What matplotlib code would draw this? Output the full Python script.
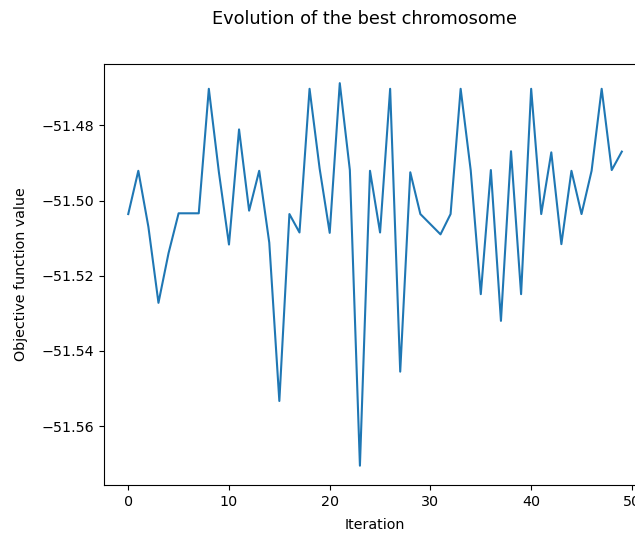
import numpy as np
import matplotlib
matplotlib.use('Agg')
import matplotlib.pyplot as plt

# Best objective value per iteration.
iterations = np.arange(50)
best_values = [
    -51.5036, -51.4921, -51.5070, -51.5272, -51.5140,
    -51.5034, -51.5034, -51.5034, -51.4703, -51.4925,
    -51.5117, -51.4811, -51.5027, -51.4921, -51.5112,
    -51.5533, -51.5036, -51.5085, -51.4703, -51.4915,
    -51.5086, -51.4688, -51.4919, -51.5705, -51.4921,
    -51.5085, -51.4703, -51.5455, -51.4925, -51.5036,
    -51.5063, -51.5090, -51.5036, -51.4703, -51.4920,
    -51.5249, -51.4919, -51.5320, -51.4869, -51.5249,
    -51.4703, -51.5036, -51.4872, -51.5116, -51.4921,
    -51.5036, -51.4921, -51.4703, -51.4919, -51.4870,
]

title = 'Evolution of the best chromosome'
xlabel = 'Iteration'
ylabel = 'Objective function value'

plt.rcParams['font.size'] = 10.3

fig = plt.figure(figsize=(6.35, 5.34), dpi=100)
# The reference is cropped on the right, so the axes run past the figure edge.
ax = fig.add_axes([0.1631, 0.0921, 0.855, 0.788])
ax.plot(iterations, best_values)
ax.set_xlabel(xlabel, labelpad=6.5)
ax.set_ylabel(ylabel)
ax.yaxis.set_label_coords(-0.139, 0.5)
ax.set_xticks([0, 10, 20, 30, 40, 50])
fig.text(365 / 635, 1 - 19 / 534, title, ha='center', va='center', fontsize=12.8)

fig.savefig('out.png', dpi=100)
